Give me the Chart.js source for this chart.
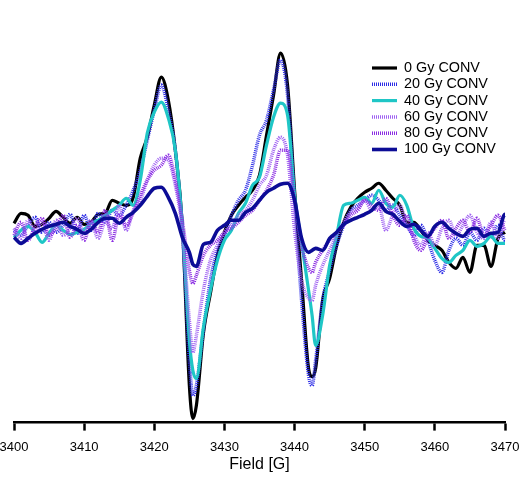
<!DOCTYPE html>
<html>
<head>
  <meta charset="utf-8">
  <title>EPR spectra</title>
  <style>
    html, body { margin: 0; padding: 0; background: #fff; }
    #wrap { width: 532px; height: 478px; position: relative; }
  </style>
  <script src="https://cdn.jsdelivr.net/npm/chart.js@4.4.1/dist/chart.umd.min.js"></script>
</head>
<body>
  <div id="wrap"><canvas id="chart"></canvas></div>
  <script>
    // field axis (G), finer around the two sharp troughs
    const field = [
      3400, 3401, 3402, 3403, 3404, 3405, 3406, 3407, 3408, 3409,
      3410, 3411, 3412, 3413, 3414, 3415, 3416, 3417, 3418, 3419,
      3420, 3421, 3422, 3423, 3424, 3425, 3425.5, 3426, 3427, 3428,
      3429, 3430, 3431, 3432, 3433, 3434, 3435, 3436, 3437, 3438,
      3439, 3440, 3441, 3442, 3442.5, 3443, 3444, 3445, 3446, 3447,
      3448, 3449, 3450, 3451, 3452, 3453, 3454, 3455, 3456, 3457,
      3458, 3459, 3460, 3461, 3462, 3463, 3464, 3465, 3466, 3467,
      3468, 3469, 3470, 3471
    ];

    const gy0 = [
      7, 17, 15, 4, 6, 12, 19, 13, 7, 13,
      6, 8, 16, 17, 30, 27, 25, 33, 72, 93,
      125, 153, 130, 80, 5, -155, -188, -175, -103, -63,
      -25, -2, 15, 25, 33, 40, 55, 95, 135, 177,
      145, 40, -50, -138, -146, -138, -70, -48, -15, 8,
      23, 32, 38, 42, 47, 40, 32, 25, 8, 8,
      0, -10, -15, -20, -32, -38, -27, -42, -15, -15,
      -36, -8, -2, 2
    ];
    const gy20 = [
      0, -5, 5, 13, -2, 8, -2, 5, 16, -3,
      15, 0, 17, 8, 20, 15, 25, 40, 60, 90,
      120, 145, 120, 80, 0, -130, -165, -155, -100, -50,
      -20, -5, 15, 30, 40, 65, 95, 110, 140, 170,
      135, 30, -70, -145, -155, -130, -70, -40, -15, 5,
      20, 25, 30, 35, 30, 20, 25, 15, 5, -5,
      5, -10, -30, -42, -20, -8, -15, -2, -10, 2,
      -7, 5, -10, -2
    ];
    const gy40 = [
      -7, 0, 4, -2, -12, -3, 5, 0, -4, -2,
      1, 7, 10, 15, 20, 25, 32, 25, 50, 97,
      118, 128, 112, 80, 5, -110, -140, -148, -97, -60,
      -30, -10, 0, 17, 27, 45, 53, 85, 113, 127,
      115, 35, -12, -60, -85, -115, -85, -35, -5, 25,
      27, 30, 33, 27, 40, 27, 23, 35, 25, 2,
      -6, -8, -18, -28, -32, -25, -20, -10, -16, -13,
      -6, -13, -13, 6
    ];
    const gy60 = [
      2, -8, 10, -2, 8, -10, 10, -5, 2, 12,
      -2, 8, -8, 8, 2, 25, 0, 20, 30, 50,
      65, 72, 70, 45, 0, -90, -122, -105, -60, -30,
      -15, -2, 5, 15, 20, 30, 45, 55, 80, 93,
      75, 0, -50, -68, -70, -55, -35, -20, -5, 8,
      18, 22, 30, 20, 25, 0, 15, 25, 5, -5,
      -15, -2, -15, 2, 10, -5, 5, 15, -2, -8,
      8, -8, 10, 2
    ];
    const gy80 = [
      -5, 8, -10, 4, 12, -5, 2, 15, -7, 5,
      -10, 10, -2, 20, -10, 15, 5, 18, 35, 50,
      60, 65, 75, 50, 10, -40, -53, -45, -25, -15,
      -10, -2, 2, 8, 15, 20, 30, 40, 55, 80,
      80, 30, -15, -38, -42, -32, -20, -10, -2, 5,
      15, 20, 30, 25, 20, 32, 15, 5, 15, -10,
      -20, -8, 2, 10, -8, 2, 10, -2, 12, -5,
      5, 15, 0, -5
    ];
    const gy100 = [
      -7, -13, -8, -3, 1, 4, 6, 8, 4, 1,
      -3, 1, 8, 12, 12, 7, 13, 18, 25, 34,
      42, 43, 33, 17, -7, -22, -34, -36, -14, -12,
      0, 5, 10, 10, 18, 22, 30, 38, 42, 46,
      47, 30, -8, -22, -20, -18, -20, -8, -2, 6,
      10, 13, 16, 20, 27, 19, 16, 9, 4, 6,
      0, -6, 4, 8, 2, -3, -6, 1, 2, -6,
      -3, -2, 16, 16
    ];

    const seriesNames = ['0 Gy CONV', '20 Gy CONV', '40 Gy CONV', '60 Gy CONV', '80 Gy CONV', '100 Gy CONV'];
    const xTicks = [3400, 3410, 3420, 3430, 3440, 3450, 3460, 3470];

    const styles = [
      { color: '#000000', dash: [], width: 3.2 },
      { color: '#2c2ce6', dash: [1, 1], width: 3.5 },
      { color: '#1fc6c6', dash: [], width: 3.2 },
      { color: '#a062f2', dash: [1, 1], width: 3.5 },
      { color: '#8a2be2', dash: [1, 1], width: 3.5 },
      { color: '#0c0c96', dash: [], width: 3.6 }
    ];
    const values = [gy0, gy20, gy40, gy60, gy80, gy100];

    const datasets = values.map(function (vals, i) {
      return {
        label: seriesNames[i],
        data: vals.map(function (v, k) { return { x: field[k], y: v }; }),
        borderColor: styles[i].color,
        borderDash: styles[i].dash,
        borderWidth: styles[i].width,
        pointRadius: 0,
        cubicInterpolationMode: 'monotone',
        fill: false,
        clip: false,
        order: 5 - i
      };
    });

    // legend drawn inside the plot, top right
    const insideLegend = {
      id: 'insideLegend',
      afterDatasetsDraw(chart) {
        const ctx = chart.ctx;
        const x0 = chart.chartArea.right - 133;
        ctx.save();
        ctx.font = '14.4px "Liberation Sans", Arial, sans-serif';
        ctx.textBaseline = 'middle';
        chart.data.datasets.forEach(function (ds, i) {
          const y = 68 + i * 16.3;
          ctx.beginPath();
          ctx.setLineDash(ds.borderDash);
          ctx.strokeStyle = ds.borderColor;
          ctx.lineWidth = ds.borderWidth;
          ctx.moveTo(x0, y);
          ctx.lineTo(x0 + 25, y);
          ctx.stroke();
          ctx.setLineDash([]);
          ctx.fillStyle = '#000';
          ctx.fillText(ds.label, x0 + 32, y);
        });
        ctx.restore();
      }
    };

    new Chart(document.getElementById('chart'), {
      type: 'line',
      data: { datasets: datasets },
      plugins: [insideLegend],
      options: {
        responsive: true,
        maintainAspectRatio: false,
        animation: false,
        layout: { padding: { left: 14, right: 27, top: 10, bottom: 3.6 } },
        plugins: { legend: { display: false }, tooltip: { enabled: false } },
        scales: {
          x: {
            type: 'linear',
            min: 3400,
            max: 3470,
            afterBuildTicks: function (axis) {
              axis.ticks = xTicks.map(function (v) { return { value: v }; });
            },
            afterFit: function (axis) {
              // labels may hang over the edges, keep the plot edges fixed by layout padding
              axis.paddingLeft = 0;
              axis.paddingRight = 0;
            },
            border: { display: true, color: '#000', width: 2.5 },
            grid: { drawOnChartArea: false, drawTicks: true, tickLength: 8, tickWidth: 2.5, color: '#000' },
            ticks: {
              padding: 9,
              maxRotation: 0,
              color: '#000',
              font: { family: '"Liberation Sans", Arial, sans-serif', size: 13 },
              callback: function (v) { return String(v); }
            },
            title: {
              display: true,
              text: 'Field [G]',
              color: '#000',
              padding: { top: -9, bottom: 0 },
              font: { family: '"Liberation Sans", Arial, sans-serif', size: 16 }
            }
          },
          y: {
            display: false,
            min: -192,
            max: 220
          }
        }
      }
    });
  </script>
</body>
</html>
